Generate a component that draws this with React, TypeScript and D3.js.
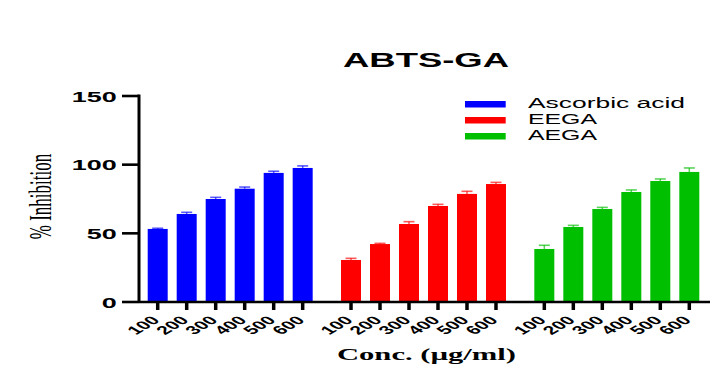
import React from "react";
import * as d3 from "d3";

const concentrations = ["100", "200", "300", "400", "500", "600"];
const seriesNames = ["Ascorbic acid", "EEGA", "AEGA"];
const seriesColors = ["#0000ff", "#ff0000", "#00bf00"];
const ascorbicValues = [53.2, 64.1, 75.0, 82.5, 94.0, 97.6];
const ascorbicErrors = [0.5, 1.2, 1.2, 1.2, 1.2, 1.5];
const eegaValues = [30.6, 42.2, 56.8, 69.9, 78.7, 85.9];
const eegaErrors = [1.2, 0.5, 1.7, 1.2, 1.9, 1.2];
const aegaValues = [38.6, 54.6, 67.7, 80.1, 88.1, 94.7];
const aegaErrors = [2.7, 1.2, 1.2, 1.5, 1.5, 2.9];
const yTicks = [0, 50, 100, 150];

const W = 728;
const H = 381;
const SERIF = "'Liberation Serif', 'Times New Roman', serif";
const SANS = "'Liberation Sans', Arial, sans-serif";

export default function App() {
  const values = [ascorbicValues, eegaValues, aegaValues];
  const errors = [ascorbicErrors, eegaErrors, aegaErrors];
  const groupGap = 6.6667;
  const y = d3.scaleLinear().domain([0, 150]).range([302, 96]);
  const x = d3.scaleLinear().domain([0, 5 + 2 * groupGap]).range([157.7, 689.3]);
  const barW = 20;
  const axisX = 139;
  const axisRight = 710;
  const SX = 1.75;

  const bars: any[] = [];
  values.forEach((vals, g) => {
    vals.forEach((v, j) => {
      bars.push({ g, j, v, e: errors[g][j], cx: x(j + g * groupGap), color: seriesColors[g], label: concentrations[j] });
    });
  });

  return (
    <svg width={W} height={H} style={{ position: "absolute", left: 0, top: 0, background: "#fff" }}>
      {/* title */}
      <text x={343} y={67} textLength={166} lengthAdjust="spacingAndGlyphs"
        fontFamily={SANS} fontWeight="bold" fontSize={19.5}>ABTS-GA</text>

      {/* bars */}
      {bars.map((b, i) => (
        <g key={i}>
          <rect x={b.cx - barW / 2} y={y(b.v)} width={barW} height={y(0) - y(b.v)} fill={b.color} />
          <line x1={b.cx} x2={b.cx} y1={y(b.v)} y2={y(b.v + b.e)} stroke={b.color} strokeWidth={1.5} opacity={0.65} />
          <line x1={b.cx - 5.5} x2={b.cx + 5.5} y1={y(b.v + b.e)} y2={y(b.v + b.e)} stroke={b.color} strokeWidth={1.6} opacity={0.65} />
        </g>
      ))}

      {/* y axis */}
      <line x1={axisX} x2={axisX} y1={y(150) - 1.5} y2={y(0) + 1} stroke="#000" strokeWidth={3} />
      {yTicks.map((t) => (
        <g key={t}>
          <line x1={122} x2={axisX} y1={y(t)} y2={y(t)} stroke="#000" strokeWidth={2.6} />
          <text x={116.7} y={y(t) + 5.5} textAnchor="end" fontFamily={SANS} fontWeight="bold" fontSize={15.5}
            textLength={String(t).length * 15} lengthAdjust="spacingAndGlyphs">{t}</text>
        </g>
      ))}

      {/* x axis */}
      <line x1={axisX} x2={axisRight} y1={y(0)} y2={y(0)} stroke="#000" strokeWidth={2.6} />
      {bars.map((b, i) => (
        <g key={"t" + i}>
          <line x1={b.cx} x2={b.cx} y1={y(0)} y2={310} stroke="#000" strokeWidth={3.5} />
          <text transform={`translate(${b.cx + 3},${321}) scale(${SX},1) rotate(-45)`} textAnchor="end"
            fontFamily={SANS} fontWeight="bold" fontSize={12}>{b.label}</text>
        </g>
      ))}

      {/* axis titles */}
      <text x={337} y={360} textLength={179} lengthAdjust="spacingAndGlyphs"
        fontFamily={SERIF} fontWeight="bold" fontSize={16}>Conc. (µg/ml)</text>
      <text transform={`translate(51,196.5) scale(1.8,1) rotate(-90)`} textAnchor="middle"
        fontFamily={SERIF} fontSize={17}>% Inhibition</text>

      {/* legend */}
      {seriesNames.map((n, i) => (
        <g key={n}>
          <rect x={465} y={101 + i * 16} width={40.7} height={6.5} fill={seriesColors[i]} />
          <text x={528} y={107.5 + i * 16} fontFamily={SANS} fontSize={14}
            textLength={n.length > 5 ? 157 : 69} lengthAdjust="spacingAndGlyphs">{n}</text>
        </g>
      ))}
    </svg>
  );
}
